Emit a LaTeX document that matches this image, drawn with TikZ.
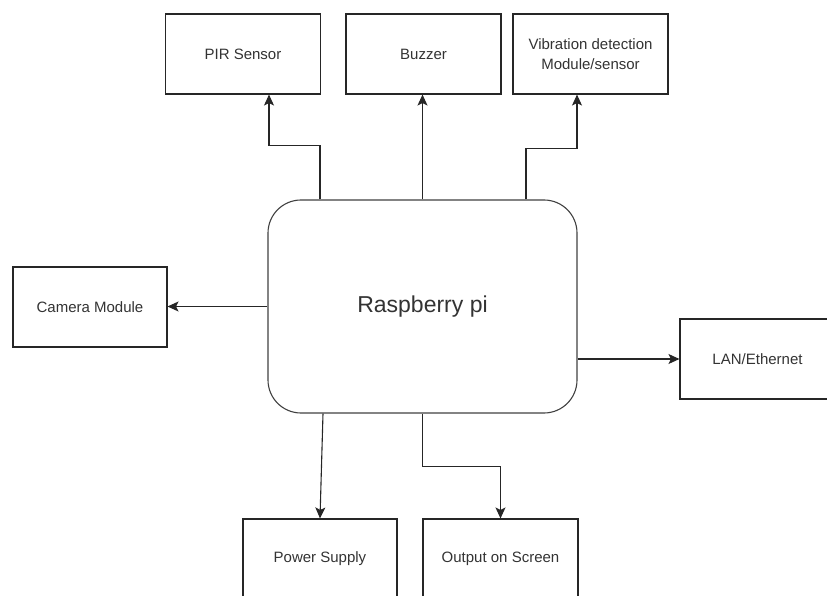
\documentclass[tikz,border=0pt]{standalone}
\usepackage{fontspec}
\setmainfont{Liberation Sans}
\usetikzlibrary{arrows.meta}
\tikzset{
  box/.style={draw=black!85,line width=1.1pt,rectangle,minimum width=155pt,minimum height=80pt,inner sep=0pt,anchor=center,align=center,text=black!80,font=\fontsize{15}{20}\selectfont},
  pibox/.style={draw=black!75,line width=1.1pt,rectangle,rounded corners=33pt,minimum width=309pt,minimum height=213pt,anchor=center,text=black!80,font=\fontsize{23}{27}\selectfont},
  conn/.style={draw=black!85,line width=1.1pt,-{Stealth[length=11pt,width=10pt,inset=2.5pt]}}
}
\begin{document}
\begin{tikzpicture}[x=1pt,y=-1pt]
    \useasboundingbox (0,0) rectangle (827,596);
    \clip (0,0) rectangle (827,596);
    \node[pibox] (rpi) at (422.5,306.5) {Raspberry pi};
    \node[box] (pir) at (243,54) {PIR Sensor};
    \node[box] (buzz) at (423.5,54) {Buzzer};
    \node[box] (vib) at (590.5,54) {Vibration detection\\Module/sensor};
    \node[box,minimum width=154pt] (cam) at (90,307) {Camera Module};
    \node[box] (lan) at (757.5,359) {LAN/Ethernet};
    \node[box,minimum width=154pt] (power) at (320,559) {Power Supply};
    \node[box] (out) at (500.5,559) {Output on Screen};
    % top row
    \draw[conn] ([xshift=-102.5pt]rpi.north) -- ++(0,-54) -| ([xshift=26pt]pir.south);
    \draw[conn] (rpi.north) -- (rpi.north |- buzz.south);
    \draw[conn] ([xshift=103.5pt]rpi.north) -- ++(0,-51) -| ([xshift=-13.5pt]vib.south);
    % sides
    \draw[conn] (rpi.west) -- (rpi.west -| cam.east);
    \draw[conn] (rpi.east |- lan.west) -- (lan.west);
    % bottom row
    \draw[conn] ([xshift=-99.5pt]rpi.south) -- (power.north);
    \draw[conn] (rpi.south) -- ++(0,53) -| (out.north);
\end{tikzpicture}
\end{document}
